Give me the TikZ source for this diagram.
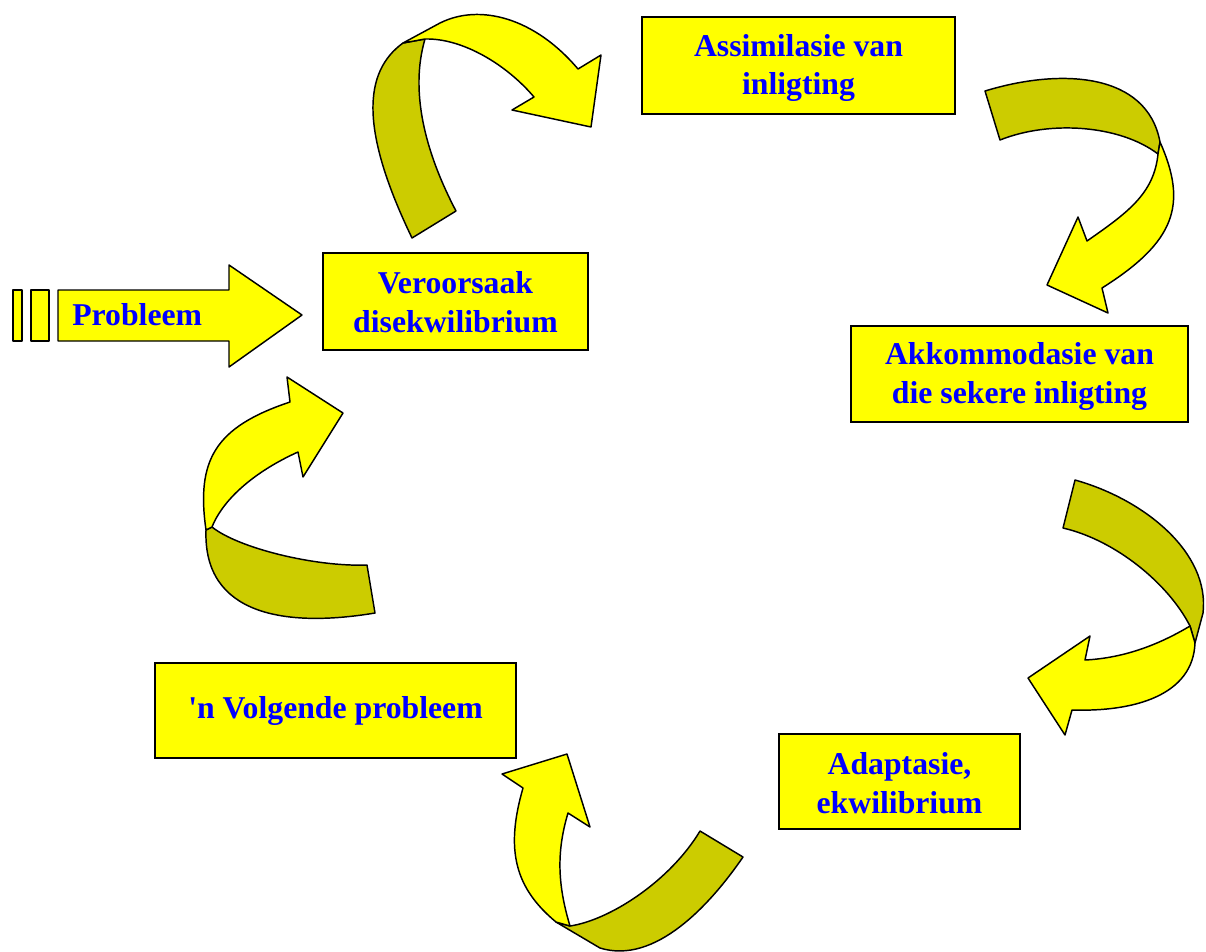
\documentclass[tikz,border=0pt]{standalone}
\usepackage{fontspec}
\setmainfont{Liberation Serif}
\begin{document}
\begin{tikzpicture}[x=0.75pt,y=-0.75pt,
  lbl/.style={font=\fontsize{23.8}{29}\selectfont\bfseries, text=labelblue, align=center, inner sep=0pt},
  box/.style={draw=black, line width=1.5pt, fill=boxyellow},
  front/.style={draw=black, line width=1.1pt, fill=boxyellow, line join=round},
  back/.style={draw=black, line width=1.1pt, fill=olive, line join=round}]
\definecolor{boxyellow}{RGB}{255,255,0}
\definecolor{olive}{RGB}{204,204,0}
\definecolor{labelblue}{RGB}{0,0,255}
\useasboundingbox (0,0) rectangle (1206,951);

% ---- stages of the cycle
\node[box, minimum width=234.75pt, minimum height=72.75pt] (assim) at (798.5,65.5) {};
\node[lbl, yshift=-1.8pt] (assim-t) at (assim.center) {Assimilasie van\\inligting};
\node[box, minimum width=198.75pt, minimum height=72.75pt] (dis) at (455.5,301.5) {};
\node[lbl, yshift=-0.6pt] (dis-t) at (dis.center) {Veroorsaak\\disekwilibrium};
\node[box, minimum width=252.75pt, minimum height=72pt] (akkom) at (1019.5,374) {};
\node[lbl, yshift=-1.8pt] (akkom-t) at (akkom.center) {Akkommodasie van\\die sekere inligting};
\node[box, minimum width=180.75pt, minimum height=71.25pt] (adapt) at (899.5,781.5) {};
\node[lbl, yshift=-1.2pt] (adapt-t) at (adapt.center) {Adaptasie,\\ekwilibrium};
\node[box, minimum width=270.75pt, minimum height=71.25pt] (next) at (335.5,710.5) {};
\node[lbl, yshift=-0.6pt] (next-t) at (next.center) {\textquotesingle n Volgende probleem};

% ---- block arrow carrying the problem in
\filldraw[front] (13,290) rectangle (22,341);
\filldraw[front] (31,290) rectangle (49,341);
\filldraw[front] (58,290) -- (229,290) -- (229,265) -- (302,315) -- (229,367) -- (229,341) -- (58,341) -- cycle;
\node[lbl, anchor=base west] (prob) at (72,325) {Probleem};

% ---- twisted ribbon arrows between the stages
% disekwilibrium -> assimilasie
\filldraw[back] (412,238) .. controls (360,130) and (363,72) .. (403,43) -- (425,39)
  .. controls (410,90) and (424,150) .. (456,211) -- cycle;
\filldraw[front] (403,43) -- (440,23) .. controls (480,3) and (535,18) .. (578,69)
  -- (601,55) -- (591,127) -- (512,110) -- (534,97)
  .. controls (506,64) and (462,38) .. (425,39) -- cycle;

% assimilasie -> akkommodasie
\filldraw[back] (985,91) .. controls (1060,68) and (1147,72) .. (1160,142) -- (1158,154)
  .. controls (1120,125) and (1050,120) .. (1000,140) -- cycle;
\filldraw[front] (1160,142) .. controls (1188,205) and (1175,242) .. (1102,288)
  -- (1108,313) -- (1047,285) -- (1078,217) -- (1087,241)
  .. controls (1127,213) and (1154,194) .. (1158,154) -- cycle;

% akkommodasie -> adaptasie
\filldraw[back] (1075,480) .. controls (1145,499.6) and (1210,553) .. (1203,613)
  -- (1195,643) -- (1190,626) .. controls (1168,583) and (1115,540) .. (1063,528) -- cycle;
\filldraw[front] (1190,626) -- (1195,643) .. controls (1193,695) and (1135,712) .. (1072,710)
  -- (1065,735) -- (1028,678) -- (1090,636) -- (1085,660)
  .. controls (1125,658) and (1160,644) .. (1190,626) -- cycle;

% adaptasie -> volgende probleem
\filldraw[back] (700,831) -- (743,857) .. controls (710,905) and (655,965) .. (600,948)
  -- (556,922) -- (570,926) .. controls (610,920) and (670,881) .. (700,831) -- cycle;
\filldraw[front] (556,922) .. controls (515,888) and (505,850) .. (523,788)
  -- (502,774) -- (567,754) -- (590,827) -- (568,813)
  .. controls (556,853) and (558,886) .. (570,926) -- cycle;

% volgende probleem -> disekwilibrium
\filldraw[back] (367,565) -- (375,613) .. controls (285,628) and (203,615) .. (206,530)
  -- (212,527) .. controls (238,548) and (315,567) .. (367,565) -- cycle;
\filldraw[front] (206,530) .. controls (196,460) and (215,427) .. (290,402)
  -- (287,377) -- (343,413) -- (303,477) -- (298,452)
  .. controls (258,470) and (224,497) .. (212,527) -- cycle;
\end{tikzpicture}
\end{document}
